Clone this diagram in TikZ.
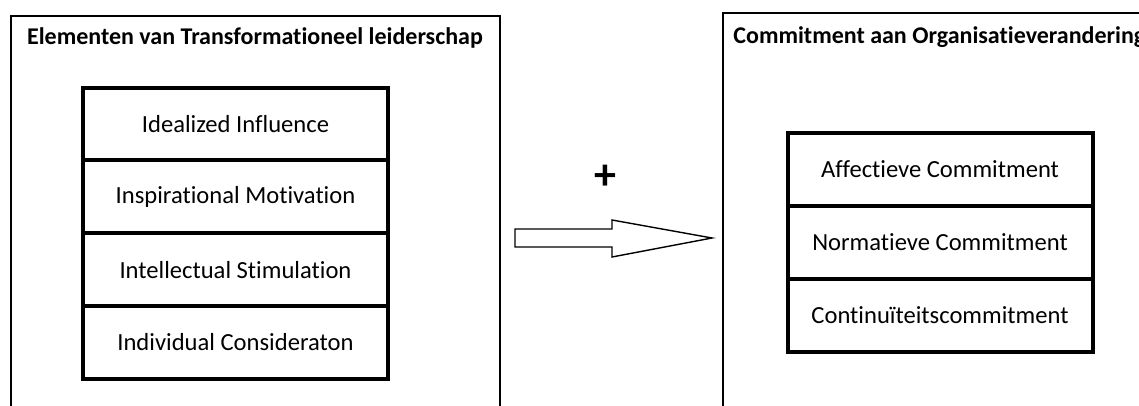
\documentclass[tikz,border=0pt]{standalone}
\usepackage{fontspec}
\setmainfont{Carlito}[Ligatures=NoCommon]
\usetikzlibrary{positioning}
\tikzset{
  frame/.style={draw, line width=0.75pt, anchor=north west, inner sep=0pt, outer sep=0pt},
  heading/.style={inner sep=0pt, font=\fontsize{12}{14}\selectfont\bfseries},
  item/.style={draw, line width=2pt, minimum width=152.5pt, minimum height=36.4pt,
               inner sep=0pt, outer sep=0pt, font=\fontsize{12.3}{14}\selectfont},
  hollow/.style={draw, line width=0.7pt, fill=white, line join=miter},
}

\begin{document}
\begin{tikzpicture}[x=0.5pt, y=-0.5pt]
  \clip (0,0) rectangle (1139,406);

  % the two frames, both run off the page
  \node[frame, minimum width=244.5pt, minimum height=210pt] (leftframe) at (11,16) {};
  \node[frame, minimum width=220pt, minimum height=210pt] (rightframe) at (723,13) {};
  \node[heading] (lefttitle) at (255,38) {Elementen van Transformationeel leiderschap};
  \node[heading, anchor=west] (righttitle) at (733,37) {Commitment aan Organisatieverandering};

  % leadership elements
  \node[item] (idealized) at (235.5,124) {Idealized Influence};
  \node[item] (inspiration) [below=0pt of idealized] {Inspirational Motivation};
  \node[item] (stimulation) [below=0pt of inspiration] {Intellectual Stimulation};
  \node[item] (consideration) [below=0pt of stimulation] {Individual Consideraton};

  % commitment types
  \node[item] (affective) at (940,169.5) {Affectieve Commitment};
  \node[item] (normative) [below=0pt of affective] {Normatieve Commitment};
  \node[item] (continuance) [below=0pt of normative] {Continuïteitscommitment};

  % positive effect
  \node[inner sep=0pt, font=\fontsize{22}{24}\selectfont\bfseries] (plus) at (605,177) {+};
  \draw[hollow] (515,229) -- (612,229) -- (612,220) -- (712,238)
    -- (612,257) -- (612,247) -- (515,247) -- cycle;
\end{tikzpicture}
\end{document}
